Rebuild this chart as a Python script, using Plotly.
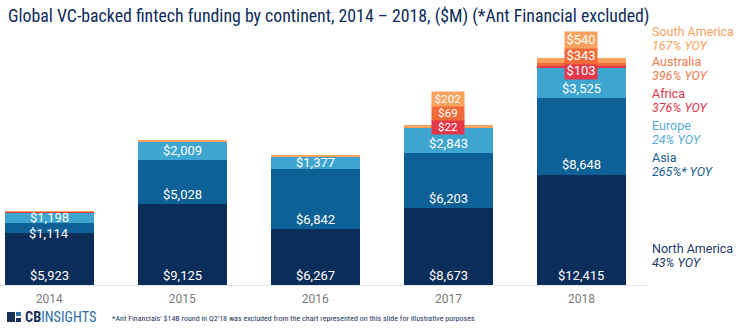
import plotly.graph_objects as go

# ---- data ($M) ----
years = ["2014", "2015", "2016", "2017", "2018"]
north_america = [5923, 9125, 6267, 8673, 12415]
asia = [1114, 5028, 6842, 6203, 8648]
europe = [1198, 2009, 1377, 2843, 3525]
africa = [8, 15, 12, 22, 103]
australia = [35, 50, 45, 69, 343]
south_america = [40, 70, 110, 202, 540]

# years whose small-continent values are called out in boxes
boxed_years = ["2017", "2018"]

legend_names = ["South America", "Australia", "Africa", "Europe", "Asia", "North America"]
legend_yoy = ["167% YOY", "396% YOY", "376% YOY", "24% YOY", "265%* YOY", "43% YOY"]

# ---- styling ----
C_NA = "#0b2d5a"
C_ASIA = "#0e6196"
C_EU = "#3ea4d0"
C_AF = "#e3374a"
C_AU = "#f26a3a"
C_SA = "#f8a25e"
LEGEND_COLORS = [C_SA, "#f07a4c", "#e0364b", "#58acd4", "#1b5d8e", "#1c3a68"]
LEGEND_Y = [31, 61, 93, 125, 157, 248]   # pixel row of each legend name
BOX_STYLE = {"2017": (14, 11.5), "2018": (15.5, 13)}   # box height, font size

TITLE_FONT = "Roboto Condensed, Liberation Sans Narrow, DejaVu Sans Condensed, Roboto, sans-serif"
LABEL_FONT = "Roboto, sans-serif"

W, H = 750, 333
ML, MR, MT, MB = 0, 102, 40, 48
PW, PH = W - ML - MR, H - MT - MB
Y_MAX = 27650
PX_PER_UNIT = PH / Y_MAX

x = list(range(len(years)))


def fmt(v):
    return f"${v:,}"


fig = go.Figure()

series = [
    ("North America", north_america, C_NA),
    ("Asia", asia, C_ASIA),
    ("Europe", europe, C_EU),
    ("Africa", africa, C_AF),
    ("Australia", australia, C_AU),
    ("South America", south_america, C_SA),
]

for name, vals, color in series:
    fig.add_trace(go.Bar(
        x=x, y=vals, name=name,
        marker=dict(color=color, line=dict(width=0)),
        width=0.67,
        hoverinfo="skip",
    ))

annotations = []

# value labels for the three large segments: near each segment's base,
# centred in segments that are too short, pushed apart when crowded
LABEL_GAP = 16
label_tops = []
for i in range(len(years)):
    stack = [north_america[i], asia[i], europe[i]]
    bases = [0, stack[0], stack[0] + stack[1]]
    pos = []
    for v, b in zip(stack, bases):
        h = v * PX_PER_UNIT
        off = 10 if h >= 22 else h / 2
        pos.append(b * PX_PER_UNIT + off)
    for k in range(len(pos) - 2, -1, -1):
        if pos[k + 1] - pos[k] < LABEL_GAP:
            pos[k] = pos[k + 1] - LABEL_GAP
    for v, p in zip(stack, pos):
        annotations.append(dict(
            x=i, y=0, xref="x", yref="y", yshift=p,
            text=fmt(v), showarrow=False, xanchor="center", yanchor="middle",
            font=dict(family=LABEL_FONT, size=13, color="white"),
        ))
    label_tops.append(pos[-1] + 6.5)

# boxed labels for the three small continents, stacked just above the Europe label
for i, yr in enumerate(years):
    if yr not in boxed_years:
        continue
    box_h, box_fs = BOX_STYLE[yr]
    bottom = label_tops[i] + 1.5
    for k, (vals, color) in enumerate([(africa, C_AF), (australia, C_AU), (south_america, C_SA)]):
        annotations.append(dict(
            x=i, y=0, xref="x", yref="y",
            text=fmt(vals[i]), showarrow=False,
            xanchor="center", yanchor="bottom",
            yshift=bottom + box_h * k,
            width=32, height=box_h, borderpad=0,
            bgcolor=color,
            font=dict(family=LABEL_FONT, size=box_fs, color="white"),
        ))


def px_to_paper(px, py):
    return (px - ML) / PW, (H - MB - py) / PH


# right-hand legend with YoY growth
for name, yoy, col, py in zip(legend_names, legend_yoy, LEGEND_COLORS, LEGEND_Y):
    xp, yp = px_to_paper(650, py)
    annotations.append(dict(x=xp, y=yp, xref="paper", yref="paper", text=name,
                            showarrow=False, xanchor="left", yanchor="middle",
                            font=dict(family=LABEL_FONT, size=12.5, color=col)))
    xp, yp = px_to_paper(650, py + 14.5)
    annotations.append(dict(x=xp, y=yp, xref="paper", yref="paper", text=f"<i>{yoy}</i>",
                            showarrow=False, xanchor="left", yanchor="middle",
                            font=dict(family=LABEL_FONT, size=12.5, color=col)))

# branding and footnote
bx, by = px_to_paper(23, 317)
annotations.append(dict(x=bx, y=by, xref="paper", yref="paper",
                        text="<b><span style='color:#1b2f5b'>CB</span></b>"
                             "<span style='color:#2f6fa5'>INSIGHTS</span>",
                        showarrow=False, xanchor="left", yanchor="middle",
                        font=dict(family=TITLE_FONT, size=14.3)))
fx, fy = px_to_paper(110, 318)
annotations.append(dict(x=fx, y=fy, xref="paper", yref="paper",
                        text="*Ant Financials' $14B round in Q2'18 was excluded from the chart "
                             "represented on this slide for illustrative purposes",
                        showarrow=False, xanchor="left", yanchor="middle",
                        font=dict(family=TITLE_FONT, size=8, color="#1d3461")))

# logo mark
shapes = []
for (x0, y0, x1, y1, c) in [(7, 312, 15, 322, "#1b2f5b"), (16, 312, 21, 316, "#2f6fa5"),
                            (16, 318, 21, 322, "#1b2f5b")]:
    ax0, ay0 = px_to_paper(x0, y0)
    ax1, ay1 = px_to_paper(x1, y1)
    shapes.append(dict(type="rect", xref="paper", yref="paper", x0=ax0, x1=ax1, y0=ay1, y1=ay0,
                       fillcolor=c, line=dict(width=0)))

fig.update_layout(
    width=W, height=H,
    barmode="stack",
    showlegend=False,
    plot_bgcolor="white", paper_bgcolor="white",
    margin=dict(l=ML, r=MR, t=MT, b=MB, pad=0),
    title=dict(text="Global VC-backed fintech funding by continent, 2014 \u2013 2018, ($M) (*Ant Financial excluded)",
               x=8 / W, xanchor="left", y=1 - 16 / H, yanchor="middle",
               font=dict(family=TITLE_FONT, size=17.8, color="#0d2b5a")),
    xaxis=dict(tickvals=x, ticktext=years, range=[-0.37, 4.5],
               showline=True, linecolor="#e6e6e6", linewidth=1,
               showgrid=False, zeroline=False, ticks="", ticklabelstandoff=3,
               tickfont=dict(family=LABEL_FONT, size=12, color="#7a7a7a")),
    yaxis=dict(range=[0, Y_MAX], visible=False, showgrid=False, zeroline=False),
    annotations=annotations,
    shapes=shapes,
)

fig.write_html("out.html")
